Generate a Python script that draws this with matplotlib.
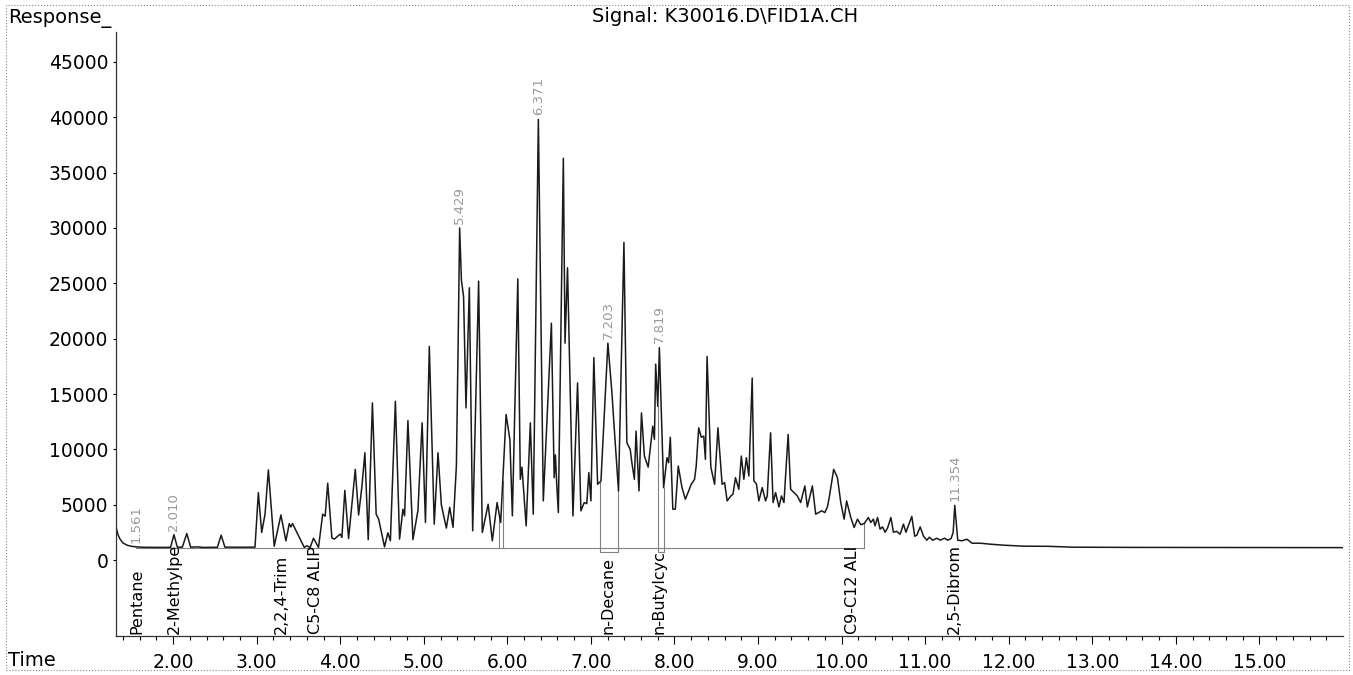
import numpy as np
import matplotlib.pyplot as plt
from matplotlib.patches import Rectangle

# tempo de retenção (min) e resposta do detector FID
tempos = [1.317, 1.34, 1.365, 1.40, 1.45, 1.50, 1.561, 1.65, 1.90, 1.97,
          2.010, 2.05, 2.11, 2.164, 2.21, 2.30, 2.35, 2.53, 2.575, 2.62,
          2.98, 3.02, 3.06, 3.10, 3.14, 3.21, 3.29, 3.35, 3.39, 3.41,
          3.43, 3.48, 3.54, 3.57, 3.60, 3.64, 3.68, 3.74, 3.79, 3.82,
          3.85, 3.90, 3.93, 3.975, 4.00, 4.02, 4.055, 4.10, 4.18, 4.22,
          4.26, 4.295, 4.335, 4.385, 4.43, 4.46, 4.53, 4.57, 4.60, 4.66,
          4.71, 4.75, 4.77, 4.81, 4.87, 4.93, 4.98, 5.02, 5.066, 5.125,
          5.17, 5.21, 5.27, 5.31, 5.35, 5.39, 5.41, 5.429, 5.45, 5.476,
          5.505, 5.545, 5.585, 5.656, 5.70, 5.77, 5.82, 5.877, 5.92, 5.985,
          6.03, 6.06, 6.125, 6.155, 6.175, 6.225, 6.275, 6.31, 6.371, 6.43,
          6.527, 6.56, 6.575, 6.59, 6.61, 6.67, 6.69, 6.72, 6.785, 6.84,
          6.88, 6.92, 6.95, 6.975, 7.00, 7.035, 7.08, 7.12, 7.203, 7.25,
          7.28, 7.33, 7.395, 7.43, 7.47, 7.49, 7.52, 7.54, 7.575, 7.605,
          7.64, 7.685, 7.74, 7.76, 7.775, 7.80, 7.819, 7.87, 7.91, 7.93,
          7.95, 7.98, 8.01, 8.045, 8.09, 8.13, 8.17, 8.20, 8.24, 8.26,
          8.29, 8.32, 8.35, 8.37, 8.39, 8.435, 8.48, 8.52, 8.57, 8.60,
          8.63, 8.675, 8.70, 8.73, 8.77, 8.80, 8.83, 8.86, 8.89, 8.93,
          8.95, 8.98, 9.01, 9.05, 9.09, 9.11, 9.15, 9.18, 9.21, 9.25,
          9.28, 9.31, 9.36, 9.39, 9.43, 9.47, 9.51, 9.56, 9.59, 9.65,
          9.69, 9.76, 9.80, 9.83, 9.855, 9.905, 9.95, 9.99, 10.03, 10.06,
          10.11, 10.15, 10.19, 10.23, 10.27, 10.32, 10.35, 10.38, 10.40, 10.43,
          10.46, 10.49, 10.52, 10.55, 10.59, 10.62, 10.66, 10.70, 10.74, 10.77,
          10.84, 10.875, 10.90, 10.94, 10.98, 11.02, 11.05, 11.09, 11.14, 11.18,
          11.23, 11.27, 11.31, 11.335, 11.354, 11.39, 11.44, 11.50, 11.56, 11.66,
          11.78, 11.94, 12.18, 12.46, 12.78, 13.5, 14.5, 16.0]
resposta = [3000, 2300, 1900, 1550, 1350, 1250, 1200, 1160, 1150, 1160,
            2300, 1180, 1170, 2400, 1170, 1200, 1150, 1160, 2250, 1170,
            1170, 6100, 2500, 4150, 8150, 1260, 4080, 1740, 3300, 3000,
            3300, 2520, 1620, 1150, 1300, 1150, 1980, 1150, 4150, 3970,
            6950, 2000, 1900, 2200, 2350, 2050, 6300, 1950, 8200, 4080,
            6700, 9700, 1850, 14200, 4150, 3700, 1200, 2470, 1750, 14350,
            1900, 4600, 4000, 12600, 1850, 4500, 12400, 3400, 19300, 3250,
            9700, 5000, 2900, 4770, 2970, 8500, 19000, 30000, 25300, 23800,
            13750, 24600, 2650, 25200, 2500, 5050, 1750, 5200, 3400, 13150,
            10900, 4000, 25400, 7300, 8400, 3100, 12400, 4150, 39800, 5350,
            21400, 7450, 9500, 7000, 4300, 36300, 19600, 26400, 4000, 16000,
            4450, 5200, 5100, 7900, 5350, 18300, 6850, 7150, 19600, 15250,
            11800, 6250, 28700, 10600, 10000, 8800, 7300, 11650, 6250, 13300,
            9400, 8400, 12100, 10900, 17700, 13900, 19200, 6550, 9250, 8800,
            11100, 4600, 4600, 8500, 6550, 5500, 6250, 6850, 7300, 8500,
            11950, 11100, 11200, 9100, 18400, 8400, 6850, 11950, 6850, 7000,
            5350, 5800, 5950, 7450, 6400, 9400, 7300, 9250, 7600, 16450,
            7150, 6900, 5350, 6550, 5350, 5800, 11500, 5200, 6100, 4800,
            5800, 5200, 11350, 6400, 6100, 5800, 5200, 6700, 4800, 6700,
            4150, 4450, 4300, 4800, 5800, 8200, 7450, 5200, 3700, 5340,
            3850, 2950, 3700, 3200, 3300, 3850, 3400, 3700, 3100, 3850,
            2800, 3000, 2520, 2900, 3850, 2520, 2600, 2340, 3250, 2520,
            3950, 2160, 2250, 3000, 2160, 1800, 2070, 1800, 1980, 1800,
            1980, 1800, 1950, 2500, 4950, 1800, 1750, 1890, 1530, 1530,
            1440, 1350, 1260, 1250, 1170, 1150, 1140, 1130]

# picos com tempo impresso
picos_rt = [1.561, 2.010, 5.429, 6.371, 7.203, 7.819, 11.354]

# compostos identificados (tempo, nome)
comp_rt = [1.565, 2.02, 3.29, 3.70, 7.203, 7.819, 10.13, 11.354]
comp_nomes = ['Pentane', '2-Methylpe', '2,2,4-Trim', 'C5-C8 ALIP',
              'n-Decane', 'n-Butylcyc', 'C9-C12 ALI', '2,5-Dibrom']

# linha de base da integração
base_nivel = 1100
base_ini, base_fim = 1.561, 10.27
caixas = [(7.11, 7.33), (7.80, 7.87)]
quedas = [5.905, 5.945, 10.27]

plt.rcParams['font.family'] = 'DejaVu Sans'
fig = plt.figure(figsize=(13.53, 6.75), dpi=100)
ax = fig.add_axes([0.0857, 0.0578, 0.9069, 0.8948])

cinza = '#808080'
ax.plot([base_ini, base_fim], [base_nivel, base_nivel], color=cinza, lw=0.8)
for t in quedas:
    ax.plot([t, t], [base_nivel, np.interp(t, tempos, resposta)], color=cinza, lw=0.8)
for a, b in caixas:
    fundo = 750
    ax.plot([a, a, b, b], [np.interp(a, tempos, resposta), fundo, fundo,
                           np.interp(b, tempos, resposta)], color=cinza, lw=0.8)

ax.plot(tempos, resposta, color='#1a1a1a', lw=1.1)

for t in picos_rt:
    ax.annotate('%.3f' % t, xy=(t, np.interp(t, tempos, resposta)), xytext=(0, 3),
                textcoords='offset points', rotation=90, ha='center', va='bottom',
                fontsize=9.5, color='#9a9a9a')

ax.set_xlim(1.316, 16.0)
ax.set_ylim(-6850, 47700)
for t, nome in zip(comp_rt, comp_nomes):
    ax.annotate(nome, xy=(t, -6850), xytext=(0, 1.5), textcoords='offset points',
                rotation=90, ha='center', va='bottom', fontsize=11.5)

ax.set_xticks(np.arange(2, 16))
ax.set_xticklabels(['%.2f' % v for v in np.arange(2, 16)])
ax.set_xticks([v for v in np.arange(1.4, 15.9, 0.2) if abs(v - round(v)) > 0.01], minor=True)
ax.set_yticks(np.arange(0, 45001, 5000))
ax.tick_params(axis='x', which='major', length=6, width=0.8, pad=6, labelsize=13.5)
ax.tick_params(axis='x', which='minor', length=3, width=0.8)
ax.tick_params(axis='y', length=2.5, width=0.8, pad=3, labelsize=13.5)
for lado in ['top', 'right']:
    ax.spines[lado].set_visible(False)
for lado in ['left', 'bottom']:
    ax.spines[lado].set_color('#333333')
    ax.spines[lado].set_linewidth(0.9)

fig.text(0.0059, 0.972, 'Response_', fontsize=14, va='center')
fig.text(0.0059, 0.021, 'Time', fontsize=14, va='center')
fig.text(0.4375, 0.975, 'Signal: K30016.D\\FID1A.CH', fontsize=14, va='center')

fig.patches.append(Rectangle((6 / 1353, 5 / 675), 1343 / 1353, 665 / 675, fill=False,
                             transform=fig.transFigure, ls=':', lw=0.8, color='#888888'))

fig.savefig('out.png', dpi=100)
